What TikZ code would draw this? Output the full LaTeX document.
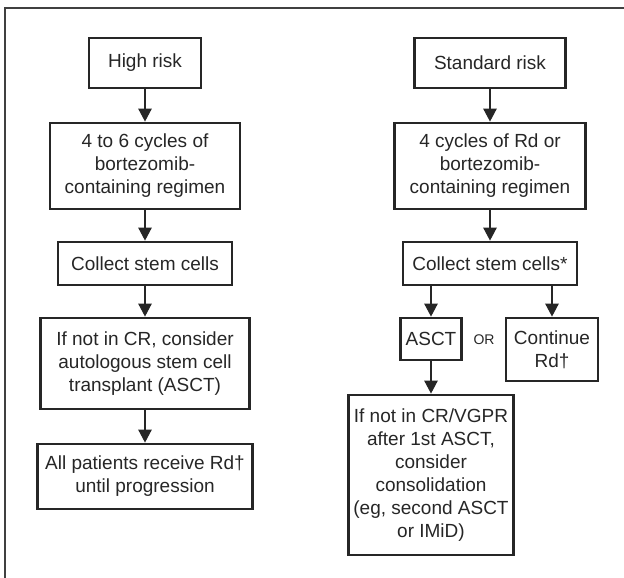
\documentclass[tikz,border=0pt]{standalone}
\usepackage{fontspec}
\setmainfont{Liberation Sans}
\usetikzlibrary{arrows.meta}
\begin{document}
\begin{tikzpicture}[x=1pt,y=-1pt,
  box/.style={draw=black!85,line width=2.6pt,align=center,inner sep=0pt,
    font=\fontsize{19}{23}\selectfont,text=black!85},
  arr/.style={draw=black!85,line width=2.4pt,-{Triangle[length=13pt,width=13pt]}}]
\useasboundingbox (0,0) rectangle (624,578);
\clip (0,0) rectangle (624,578);
\draw[black!75,line width=1.6pt] (5,8) rectangle (660,620);
% left column
\node[box,minimum width=112pt,minimum height=50pt] (hr) at (145,63) {High risk};
\node[box,minimum width=190pt,minimum height=86pt] (l2) at (145,166) {4 to 6 cycles of\\bortezomib-\\containing regimen};
\node[box,minimum width=174pt,minimum height=43pt] (l3) at (145,263.5) {Collect stem cells};
\node[box,minimum width=209pt,minimum height=91pt] (l4) at (145,363.5) {If not in CR, consider\\autologous stem cell\\transplant (ASCT)};
\node[box,minimum width=215pt,minimum height=65pt] (l5) at (145,476.5) {All patients receive Rd†\\until progression};
% right column
\node[box,minimum width=151pt,minimum height=50pt] (sr) at (490,63) {Standard risk};
\node[box,minimum width=191pt,minimum height=86pt] (r2) at (490,166) {4 cycles of Rd or\\bortezomib-\\containing regimen};
\node[box,minimum width=174pt,minimum height=43pt] (r3) at (490,263.5) {Collect stem cells*};
\node[box,minimum width=61pt,minimum height=42pt] (ra) at (431,339) {ASCT};
\node[box,minimum width=92pt,minimum height=63pt] (rc) at (552,349.5) {Continue\\Rd†};
\node[box,minimum width=165pt,minimum height=160pt] (rcons) at (431,475) {If not in CR/VGPR\\after 1st ASCT,\\consider\\consolidation\\(eg, second ASCT\\or IMiD)};
\node[font=\fontsize{14}{16}\selectfont,text=black!85] (or) at (484,340) {OR};
% arrows
\draw[arr] (hr) -- (l2);
\draw[arr] (l2) -- (l3);
\draw[arr] (l3) -- (l4);
\draw[arr] (l4) -- (l5);
\draw[arr] (sr) -- (r2);
\draw[arr] (r2) -- (r3);
\draw[arr] (r3.south -| ra.north) -- (ra.north);
\draw[arr] (r3.south -| rc.north) -- (rc.north);
\draw[arr] (ra) -- (rcons);
\end{tikzpicture}
\end{document}
